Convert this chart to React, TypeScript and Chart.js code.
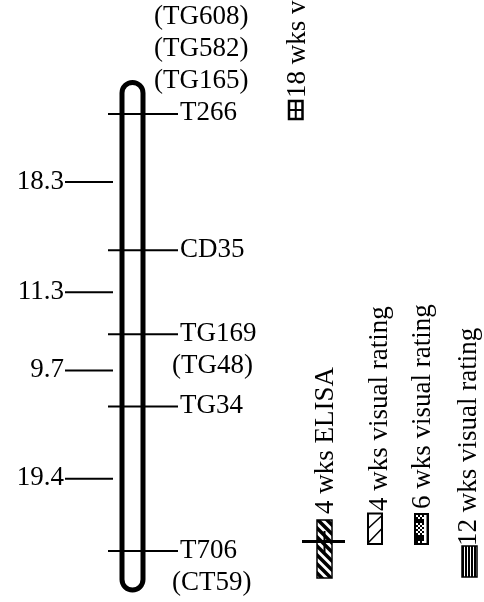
import React, { useEffect, useRef } from 'react';
import { Chart, registerables } from 'chart.js';

Chart.register(...registerables);

// ---- data ----
const markerNames = ['T266', 'CD35', 'TG169', 'TG34', 'T706'];
const intervalCM = [18.3, 11.3, 9.7, 19.4];
const stackedAbove = ['(TG608)', '(TG582)', '(TG165)'];
const stackedBelow: string[][] = [[], [], ['(TG48)'], [], ['(CT59)']];
const legendLabels = [
  '4 wks ELISA',
  '4 wks visual rating',
  '6 wks visual rating',
  '12 wks visual rating',
  '18 wks visual rating',
];

// map positions (cM) derived from the interval lengths
const markerPos: number[] = markerNames.map((_, i) =>
  intervalCM.slice(0, i).reduce((a, b) => a + b, 0)
);
const intervalMid: number[] = intervalCM.map((_, i) => (markerPos[i] + markerPos[i + 1]) / 2);

// ---- layout / style ----
const W = 484;
const H = 602;
const Y_MIN = -15.31;
const Y_MAX = 65.55;
const FONT = '27px "Liberation Serif", "Times New Roman", serif';
const CHROM_X = 132.5;
const CHROM_HALF = 10.5;
const MARKER_X = 143;
const MARKER_HALF = 35;
const INT_X = 89;
const INT_HALF = 24;
const LINE_GAP = 32;

const mapPlugin = {
  id: 'linkageMap',
  beforeDatasetsDraw(chart: any) {
    const ctx = chart.ctx as CanvasRenderingContext2D;
    const y = chart.scales.y;
    const x = chart.scales.x;
    const top = y.getPixelForValue(markerPos[0]) - 31.5;
    const bot = y.getPixelForValue(markerPos[markerPos.length - 1]) + 39;
    const cx = x.getPixelForValue(CHROM_X);
    const r = CHROM_HALF;
    ctx.save();
    ctx.strokeStyle = '#000';
    ctx.lineWidth = 5;
    ctx.beginPath();
    ctx.moveTo(cx - r, top + r);
    ctx.arc(cx, top + r, r, Math.PI, 0);
    ctx.lineTo(cx + r, bot - r);
    ctx.arc(cx, bot - r, r, 0, Math.PI);
    ctx.closePath();
    ctx.stroke();
    ctx.restore();
  },
  afterDatasetsDraw(chart: any) {
    const ctx = chart.ctx as CanvasRenderingContext2D;
    const y = chart.scales.y;
    const x = chart.scales.x;
    ctx.save();
    ctx.fillStyle = '#000';
    ctx.font = FONT;
    ctx.textBaseline = 'alphabetic';

    // marker names
    ctx.textAlign = 'left';
    markerNames.forEach((name, i) => {
      const py = y.getPixelForValue(markerPos[i]);
      ctx.fillText(name, x.getPixelForValue(MARKER_X + MARKER_HALF + 2), py + 6.5);
      stackedBelow[i].forEach((s, k) => {
        ctx.fillText(s, x.getPixelForValue(172), py + 6.5 + LINE_GAP * (k + 1));
      });
    });
    const p0 = y.getPixelForValue(markerPos[0]);
    stackedAbove.forEach((s, k) => {
      const n = stackedAbove.length - k;
      ctx.fillText(s, x.getPixelForValue(154), p0 + 6.5 - LINE_GAP * n);
    });

    // interval distances
    ctx.textAlign = 'right';
    intervalCM.forEach((d, i) => {
      const py = y.getPixelForValue(intervalMid[i]);
      ctx.fillText(d.toFixed(1), x.getPixelForValue(INT_X - INT_HALF - 1), py + 6.5);
    });

    // legend (rotated labels with symbols)
    const vText = (t: string, bx: number, sy: number) => {
      ctx.save();
      ctx.translate(bx, sy);
      ctx.rotate(-Math.PI / 2);
      ctx.textAlign = 'left';
      ctx.fillText(t, 0, 0);
      ctx.restore();
    };
    vText(legendLabels[0], 333, 514);
    vText(legendLabels[1], 387, 511);
    vText(legendLabels[2], 430, 509);
    vText(legendLabels[3], 476, 546);
    vText(legendLabels[4], 305, 98);

    ctx.strokeStyle = '#000';
    // ELISA symbol: hatched bar with crossbar
    {
      const rx = 317, ry = 520, rw = 15, rh = 58;
      ctx.save();
      ctx.beginPath();
      ctx.rect(rx, ry, rw, rh);
      ctx.clip();
      ctx.lineWidth = 3.5;
      for (let k = -30; k < rh + 30; k += 9) {
        ctx.beginPath();
        ctx.moveTo(rx - 2, ry + k);
        ctx.lineTo(rx + rw + 2, ry + k + rw + 4);
        ctx.stroke();
      }
      ctx.restore();
      ctx.lineWidth = 1.5;
      ctx.strokeRect(rx, ry, rw, rh);
      ctx.lineWidth = 3;
      ctx.beginPath();
      ctx.moveTo(302, 541.5);
      ctx.lineTo(345, 541.5);
      ctx.stroke();
      ctx.lineWidth = 2;
      ctx.beginPath();
      ctx.moveTo(324.5, 531);
      ctx.lineTo(324.5, 552);
      ctx.stroke();
    }
    // 4 wks visual symbol
    {
      const rx = 368, ry = 513.5, rw = 14, rh = 30.5;
      ctx.lineWidth = 2;
      ctx.strokeRect(rx, ry, rw, rh);
      ctx.lineWidth = 1.5;
      ctx.beginPath();
      ctx.moveTo(rx, ry + 15);
      ctx.lineTo(rx + rw, ry + 2);
      ctx.moveTo(rx, ry + rh - 1);
      ctx.lineTo(rx + rw, ry + 15);
      ctx.stroke();
    }
    // 6 wks visual symbol
    {
      const rx = 414, ry = 513, rw = 15, rh = 32;
      ctx.fillStyle = '#000';
      ctx.fillRect(rx, ry, rw, rh);
      ctx.fillStyle = '#fff';
      ctx.fillRect(rx + 10, ry + 2, 2.5, rh - 4);
      for (let yy = ry + 2; yy < ry + rh - 2; yy += 2) {
        for (let xx = rx + 2; xx < rx + 10; xx += 2) {
          const inMid = yy > ry + 8 && yy < ry + 22;
          const edge = yy < ry + 5 || yy > ry + rh - 6;
          if ((inMid || edge) && ((xx - rx) / 2 + (yy - ry) / 2) % 2 === 0) ctx.fillRect(xx, yy, 2, 2);
        }
      }
      ctx.fillStyle = '#000';
    }
    // 12 wks visual symbol
    {
      const rx = 462, ry = 546, rw = 15, rh = 31;
      ctx.fillStyle = '#000';
      for (let xx = rx; xx < rx + rw; xx += 3) ctx.fillRect(xx, ry, 2, rh);
      ctx.lineWidth = 1.5;
      ctx.strokeRect(rx, ry, rw, rh);
    }
    // 18 wks visual symbol
    {
      const rx = 289, ry = 101, rw = 13.5, rh = 18;
      ctx.lineWidth = 2.5;
      ctx.strokeRect(rx, ry, rw, rh);
      ctx.lineWidth = 2;
      ctx.beginPath();
      ctx.moveTo(rx, ry + rh / 2);
      ctx.lineTo(rx + rw, ry + rh / 2);
      ctx.moveTo(rx + rw / 2, ry);
      ctx.lineTo(rx + rw / 2, ry + rh);
      ctx.stroke();
    }
    ctx.restore();
  },
};

export default function App() {
  const ref = useRef<HTMLCanvasElement | null>(null);
  useEffect(() => {
    if (!ref.current) return;
    const chart = new Chart(ref.current, {
      type: 'scatter',
      data: {
        datasets: [
          {
            label: 'markers',
            data: markerPos.map((p) => ({ x: MARKER_X, y: p })),
            pointStyle: 'line',
            pointRadius: MARKER_HALF,
            pointHoverRadius: MARKER_HALF,
            borderColor: '#000',
            backgroundColor: '#000',
            borderWidth: 2,
            pointBorderWidth: 2,
          },
          {
            label: 'intervals',
            data: intervalMid.map((p) => ({ x: INT_X, y: p })),
            pointStyle: 'line',
            pointRadius: INT_HALF,
            pointHoverRadius: INT_HALF,
            borderColor: '#000',
            backgroundColor: '#000',
            borderWidth: 2,
            pointBorderWidth: 2,
          },
        ],
      },
      options: {
        responsive: false,
        animation: false,
        events: [],
        layout: { padding: 0, autoPadding: false },
        plugins: { legend: { display: false }, tooltip: { enabled: false }, title: { display: false } },
        scales: {
          x: { type: 'linear', min: 0, max: W, display: false },
          y: { type: 'linear', min: Y_MIN, max: Y_MAX, reverse: true, display: false },
        },
      },
      plugins: [mapPlugin],
    });
    return () => chart.destroy();
  }, []);
  return (
    <div style={{ position: 'fixed', left: 0, top: 0, width: W, height: H, background: '#fff' }}>
      <canvas ref={ref} width={W} height={H} style={{ display: 'block' }} />
    </div>
  );
}
